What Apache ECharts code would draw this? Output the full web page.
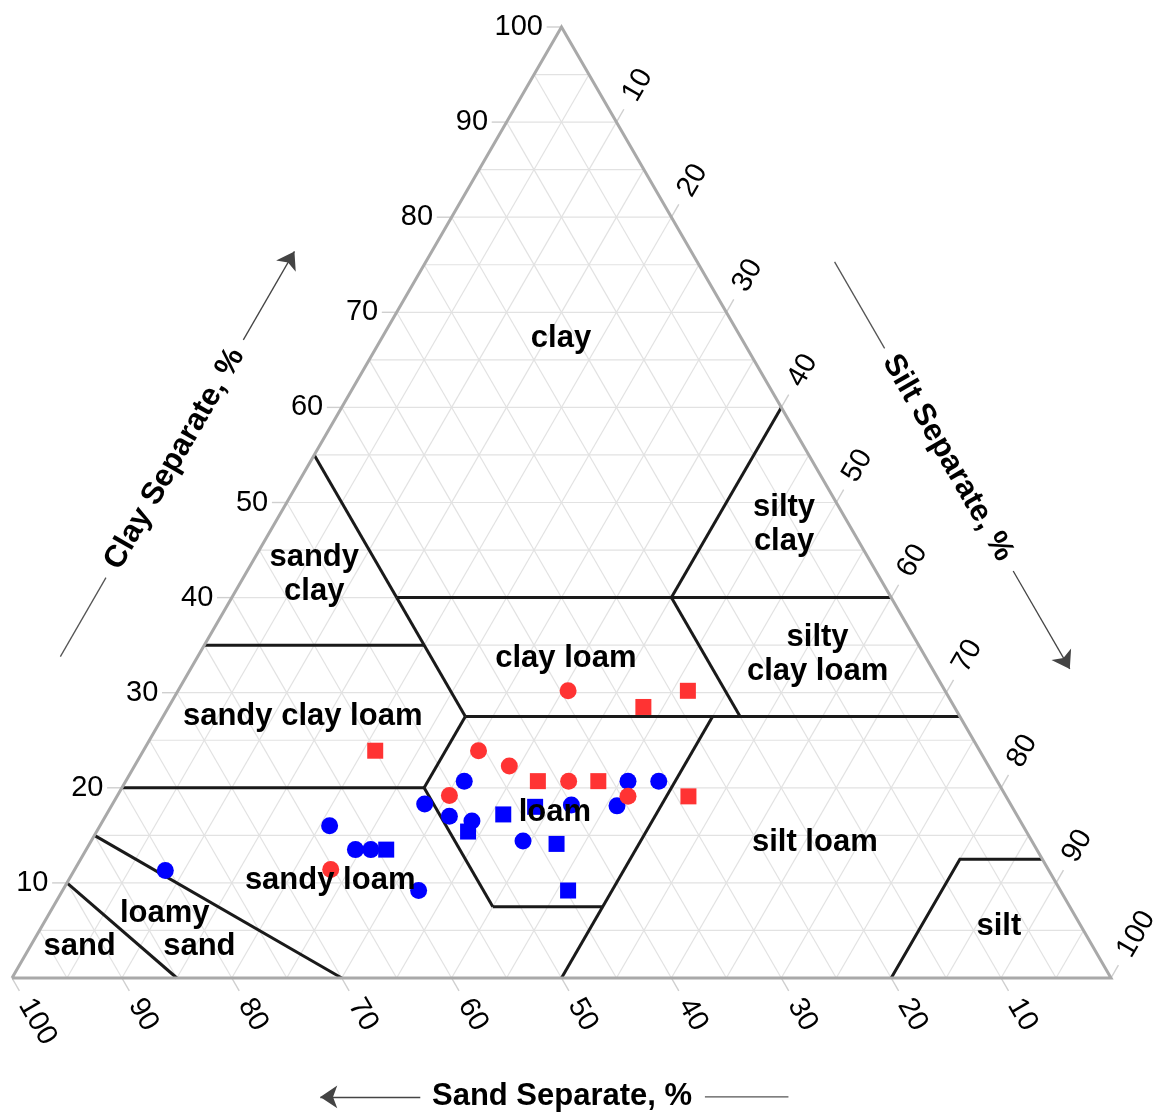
<!DOCTYPE html>
<html>
<head>
<meta charset="utf-8">
<script src="https://cdn.jsdelivr.net/npm/echarts@6/dist/echarts.min.js"></script>
<style>
  html, body { margin: 0; padding: 0; background: #ffffff; }
  #chart { width: 1163px; height: 1114px; }
</style>
</head>
<body>
<div id="chart"></div>
<script>
// Soil samples, each as [sand, silt, clay] in percent
const blueCircles = [
  [48.5, 30.8, 20.7], [33.6, 45.7, 20.7], [30.8, 48.5, 20.7], [53.3, 28.4, 18.3],
  [51.7, 31.3, 17.0], [49.9, 33.6, 16.5], [40.0, 41.8, 18.2], [35.9, 46.0, 18.1],
  [46.3, 39.3, 14.4], [63.1, 20.9, 16.0], [62.0, 24.5, 13.5], [60.6, 25.9, 13.5],
  [58.4, 32.4, 9.2], [80.4, 8.3, 11.3]
];
const blueSquares = [
  [50.8, 33.8, 15.4], [46.7, 36.1, 17.2], [43.4, 38.6, 18.0], [43.4, 42.5, 14.1],
  [59.2, 27.3, 13.5], [44.8, 46.0, 9.2]
];
const redCircles = [
  [34.3, 35.5, 30.2], [45.6, 30.5, 23.9], [43.6, 34.1, 22.3], [50.6, 30.2, 19.2],
  [39.0, 40.3, 20.7], [34.4, 46.5, 19.1], [65.3, 23.3, 11.4]
];
const redSquares = [
  [23.4, 46.4, 30.2], [28.3, 43.2, 28.5], [55.0, 21.1, 23.9], [41.8, 37.5, 20.7],
  [36.3, 43.0, 20.7], [28.9, 52.0, 19.1]
];

// Axis tick values (percent)
const tickValues = [10, 20, 30, 40, 50, 60, 70, 80, 90, 100];

// Texture class boundaries as polylines of [sand, silt, clay]
const classBoundaries = [
  [[45, 0, 55], [45, 15, 40]],
  [[45, 15, 40], [0, 60, 40]],
  [[0, 40, 60], [20, 40, 40]],
  [[65, 0, 35], [45, 20, 35]],
  [[45, 15, 40], [45, 27.5, 27.5]],
  [[45, 27.5, 27.5], [0, 72.5, 27.5]],
  [[20, 40, 40], [20, 52.5, 27.5]],
  [[80, 0, 20], [52.5, 27.5, 20]],
  [[45, 27.5, 27.5], [52.5, 27.5, 20]],
  [[52.5, 27.5, 20], [52.5, 40, 7.5]],
  [[52.5, 40, 7.5], [42.5, 50, 7.5]],
  [[22.5, 50, 27.5], [50, 50, 0]],
  [[85, 0, 15], [70, 30, 0]],
  [[90, 0, 10], [85, 15, 0]],
  [[20, 80, 0], [7.5, 80, 12.5], [0, 87.5, 12.5]]
];

// Texture class names and where each is written, as [sand, silt, clay]
const classNames = [
  'clay', 'sandy\nclay', 'silty\nclay', 'clay loam', 'silty\nclay loam',
  'sandy clay loam', 'loam', 'silt loam', 'sandy loam', 'loamy', 'sand', 'sand', 'silt'
];
const classNameAt = [
  [16.4, 16.3, 67.3], [51.3, 6.3, 42.4], [5.9, 46.4, 47.7], [32.8, 33.6, 33.6], [9.7, 56.3, 34.0],
  [59.8, 12.7, 27.5], [41.9, 40.7, 17.4], [19.8, 65.9, 14.3], [65.9, 23.8, 10.3], [82.7, 10.5, 6.8],
  [81.3, 15.4, 3.3], [92.2, 4.5, 3.3], [7.5, 87.1, 5.4]
];

// Ternary [sand, silt, clay] -> cartesian [x, y] on a 0..100 plane
function tern(p) {
  const silt = p[1], clay = p[2];
  return [silt + clay / 2, clay];
}
function seg(points) {
  return { coords: points.map(tern) };
}

const FONT = '"Liberation Sans", Arial, Helvetica, sans-serif';
const INK = '#000000';

// Light grid every 5 percent in all three directions
const gridSegs = [];
for (let v = 5; v < 100; v += 5) {
  gridSegs.push(seg([[100 - v, 0, v], [0, 100 - v, v]]));
  gridSegs.push(seg([[v, 100 - v, 0], [v, 0, 100 - v]]));
  gridSegs.push(seg([[100 - v, v, 0], [0, v, 100 - v]]));
}

// Short outward tick marks
const TICK = 1.35;
const tickSegs = [];
tickValues.forEach(v => {
  tickSegs.push(seg([[100 - v, 0, v], [100 - v + TICK, -TICK, v]]));
  tickSegs.push(seg([[v, 100 - v, 0], [v, 100 - v + TICK, -TICK]]));
  tickSegs.push(seg([[0, v, 100 - v], [-TICK, v, 100 - v + TICK]]));
});

// Tick label anchors
const GAP = 2.4;
const clayTickLabels = tickValues.map(v => ({ value: tern([100 - v, 0, v]), name: String(v) }));
const sandTickLabels = tickValues.map(v => ({ value: tern([v, 100 - v + GAP, -GAP]), name: String(v) }));
const siltTickLabels = tickValues.map(v => ({ value: tern([-GAP, v, 100 - v + GAP]), name: String(v) }));

// Axis titles and their guide arrows, offset outside each edge
const OFF = 12.5;
const clayAt = c => [100 - c + OFF, -OFF, c];
const siltAt = t => [-OFF, t, 100 - t + OFF];
const sandAt = s => [s, 100 - s + OFF, -OFF];

const guideLines = [
  seg([clayAt(33.8), clayAt(42.1)]),
  seg([siltAt(37.2), siltAt(46.3)]),
  seg([sandAt(43.2), sandAt(35.6)])
];
const guideArrows = [
  seg([clayAt(67.1), clayAt(76.4)]),
  seg([siltAt(69.7), siltAt(80.0)]),
  seg([sandAt(69.1), sandAt(78.2)])
];

const chart = echarts.init(document.getElementById('chart'), null, { renderer: 'canvas' });

const labelSeries = (data, label, z) => ({
  type: 'scatter',
  silent: true,
  clip: false,
  symbol: 'circle',
  symbolSize: 1,
  itemStyle: { color: '#ffffff', opacity: 0 },
  z: z || 20,
  data: data,
  label: Object.assign({
    show: true, formatter: '{b}', fontFamily: FONT, color: INK, opacity: 1,
    textBorderWidth: 0
  }, label)
});

const pointSeries = (data, symbol, size, color) => ({
  type: 'scatter',
  clip: false,
  symbol: symbol,
  symbolSize: size,
  itemStyle: { color: color, opacity: 1 },
  z: 10,
  data: data.map(tern)
});

chart.setOption({
  animation: false,
  backgroundColor: '#ffffff',
  grid: { left: 12, top: 27, width: 1099, height: 951 },
  xAxis: { type: 'value', min: 0, max: 100, show: false },
  yAxis: { type: 'value', min: 0, max: 100, show: false },
  series: [
    {
      type: 'lines', coordinateSystem: 'cartesian2d', polyline: true, silent: true, clip: false, z: 1,
      lineStyle: { color: '#e2e2e2', width: 1.2, opacity: 1 },
      data: gridSegs
    },
    {
      type: 'lines', coordinateSystem: 'cartesian2d', polyline: true, silent: true, clip: false, z: 2,
      lineStyle: { color: '#cfcfcf', width: 1.4, opacity: 1 },
      data: tickSegs
    },
    {
      type: 'lines', coordinateSystem: 'cartesian2d', polyline: true, silent: true, clip: false, z: 4,
      lineStyle: { color: '#1a1a1a', width: 3, opacity: 1 },
      data: classBoundaries.map(seg)
    },
    {
      type: 'lines', coordinateSystem: 'cartesian2d', polyline: true, silent: true, clip: false, z: 5,
      lineStyle: { color: '#a9a9a9', width: 3, opacity: 1, join: 'miter' },
      data: [seg([[100, 0, 0], [0, 100, 0], [0, 0, 100], [100, 0, 0]])]
    },
    {
      type: 'lines', coordinateSystem: 'cartesian2d', polyline: true, silent: true, clip: false, z: 5,
      lineStyle: { color: '#555', width: 1.3, opacity: 1 },
      data: guideLines
    },
    {
      type: 'lines', coordinateSystem: 'cartesian2d', polyline: false, silent: true, clip: false, z: 5,
      symbol: ['none', 'arrow'], symbolSize: 17,
      itemStyle: { color: '#1a1a1a' },
      lineStyle: { color: '#444', width: 1.3, opacity: 1 },
      data: guideArrows
    },
    pointSeries(blueCircles, 'circle', 17, '#0000ff'),
    pointSeries(blueSquares, 'rect', 16, '#0000ff'),
    pointSeries(redCircles, 'circle', 17, '#ff3333'),
    pointSeries(redSquares, 'rect', 16, '#ff3333'),
    labelSeries(clayTickLabels, { position: 'left', distance: 18, fontSize: 29 }),
    labelSeries(sandTickLabels, { position: 'inside', align: 'left', verticalAlign: 'middle', rotate: -60, fontSize: 29 }),
    labelSeries(siltTickLabels, { position: 'inside', align: 'left', verticalAlign: 'middle', rotate: 60, fontSize: 29 }),
    labelSeries(classNames.map((n, i) => ({ value: tern(classNameAt[i]), name: n })),
      { position: 'inside', align: 'center', verticalAlign: 'middle', fontSize: 31, fontWeight: 'bold', lineHeight: 34 }),
    labelSeries([{ value: tern(clayAt(54.6)), name: 'Clay Separate, %' }],
      { position: 'inside', align: 'center', verticalAlign: 'middle', rotate: 60, fontSize: 31, fontWeight: 'bold' }),
    labelSeries([{ value: tern(siltAt(57.8)), name: 'Silt Separate, %' }],
      { position: 'inside', align: 'center', verticalAlign: 'middle', rotate: -60, fontSize: 31, fontWeight: 'bold' }),
    labelSeries([{ value: tern(sandAt(56.2)), name: 'Sand Separate, %' }],
      { position: 'inside', align: 'center', verticalAlign: 'middle', fontSize: 31, fontWeight: 'bold' })
  ]
});
</script>
</body>
</html>
